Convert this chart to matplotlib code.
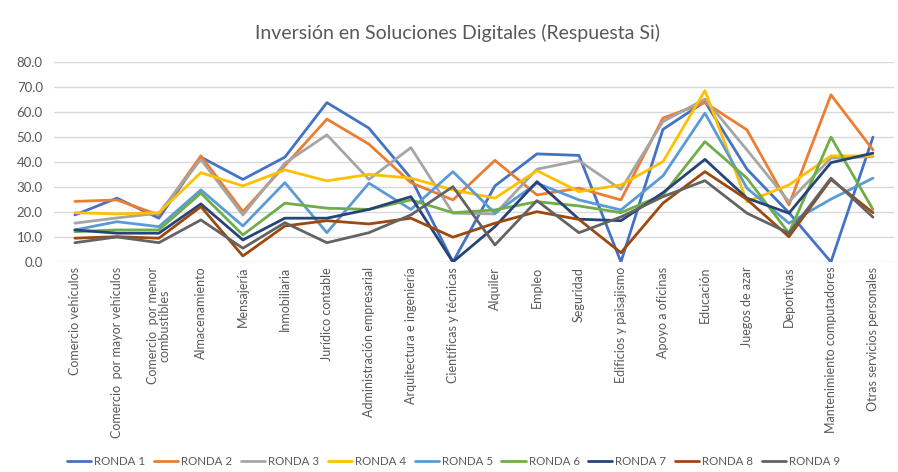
import matplotlib
matplotlib.use("Agg")
import matplotlib.pyplot as plt
import numpy as np

plt.rcParams['font.family'] = ['Lato', 'DejaVu Sans']

## Datos
categorias = [
    "Comercio vehículos", "Comercio  por mayor vehículos",
    "Comercio  por menor\ncombustibles", "Almacenamiento", "Mensajería",
    "Inmobiliaria", "Jurídico contable", "Administración empresarial",
    "Arquitectura e ingeniería", "Científicas y técnicas", "Alquiler",
    "Empleo", "Seguridad", "Edificios y paisajismo", "Apoyo a oficinas",
    "Educación", "Juegos de azar", "Deportivas",
    "Mantenimiento computadores", "Otras servicios personales",
]

ronda1 = [18.8, 25.5, 17.5, 41.9, 33.0, 41.9, 63.7, 53.5, 33.5, 0.0,
          30.4, 43.2, 42.6, 0.0, 53.0, 64.1, 37.1, 19.7, 0.0, 49.9]
ronda2 = [24.2, 24.8, 18.8, 42.4, 20.1, 38.5, 57.1, 47.1, 31.7, 24.8,
          40.6, 26.8, 29.5, 24.8, 57.5, 63.7, 52.8, 22.8, 66.8, 44.8]
ronda3 = [15.5, 17.6, 19.5, 41.0, 18.8, 39.5, 50.8, 33.0, 45.7, 19.5,
          19.2, 37.1, 40.5, 29.0, 56.1, 65.1, 44.8, 24.1, 41.5, 42.1]
ronda4 = [19.7, 19.2, 19.7, 35.7, 30.4, 36.8, 32.4, 35.0, 33.5, 28.8,
          25.5, 36.5, 28.1, 30.8, 40.1, 68.5, 24.1, 30.8, 42.4, 42.4]
ronda5 = [12.8, 16.1, 14.1, 28.8, 14.4, 31.7, 11.7, 31.5, 21.0, 36.1,
          19.5, 31.5, 24.8, 20.8, 34.4, 59.5, 29.5, 15.5, 25.1, 33.5]
ronda6 = [12.1, 12.8, 12.8, 27.5, 10.8, 23.5, 21.5, 21.0, 24.8, 19.7,
          20.8, 24.1, 22.4, 19.7, 26.8, 48.1, 33.5, 11.5, 49.9, 21.0]
ronda7 = [12.8, 11.5, 11.5, 23.2, 8.8, 17.5, 17.5, 21.0, 26.1, 0.0,
          14.1, 32.1, 17.1, 16.5, 27.7, 41.0, 25.5, 19.5, 39.7, 43.5]
ronda8 = [9.5, 10.1, 9.5, 22.1, 2.4, 14.4, 16.5, 15.2, 17.5, 9.9,
          15.5, 20.1, 17.0, 3.7, 23.5, 36.1, 25.0, 10.1, 33.0, 19.7]
ronda9 = [7.7, 10.0, 7.7, 16.8, 5.5, 15.7, 7.7, 11.7, 18.8, 30.1,
          6.8, 24.5, 11.7, 18.0, 26.1, 32.5, 19.5, 11.5, 33.5, 17.9]

series = [ronda1, ronda2, ronda3, ronda4, ronda5, ronda6, ronda7, ronda8, ronda9]
nombres = ["RONDA %d" % (i + 1) for i in range(9)]
colores = ["#4472C4", "#ED7D31", "#A5A5A5", "#FFC000", "#5B9BD5",
           "#70AD47", "#264478", "#9E480E", "#636363"]

fig = plt.figure(figsize=(8.98, 4.72), dpi=100)
ax = fig.add_axes([0.060, 0.445, 0.9355, 0.424])

x = np.arange(len(categorias))
for vals, nombre, c in zip(series, nombres, colores):
    ax.plot(x, vals, color=c, lw=2.0, label=nombre,
            solid_joinstyle='round', solid_capstyle='round')

ax.set_xlim(-0.5, len(categorias) - 0.5)
ax.set_ylim(0, 80)
ax.set_yticks(np.arange(0, 81, 10))
ax.set_yticklabels(["%.1f" % v for v in np.arange(0, 81, 10)])
ax.yaxis.grid(True, color="#D9D9D9", lw=1)
ax.set_axisbelow(True)
for s in ax.spines.values():
    s.set_visible(False)
ax.tick_params(axis='both', length=0, colors="#595959", labelsize=9.5)
ax.tick_params(axis='y', pad=8)
ax.set_xticks(x)
ax.set_xticklabels(categorias, rotation=90, fontsize=9, color="#595959",
                   linespacing=1.0)

fig.suptitle("Inversión en Soluciones Digitales (Respuesta Si)", x=0.51, y=0.95,
             fontsize=14, color="#595959")

fig.legend(loc='lower center', bbox_to_anchor=(0.505, -0.012), ncol=9, frameon=False,
           fontsize=8.3, handlelength=2.1, handletextpad=0.25, columnspacing=0.75,
           labelcolor="#595959")

fig.savefig("out.png", dpi=100)
